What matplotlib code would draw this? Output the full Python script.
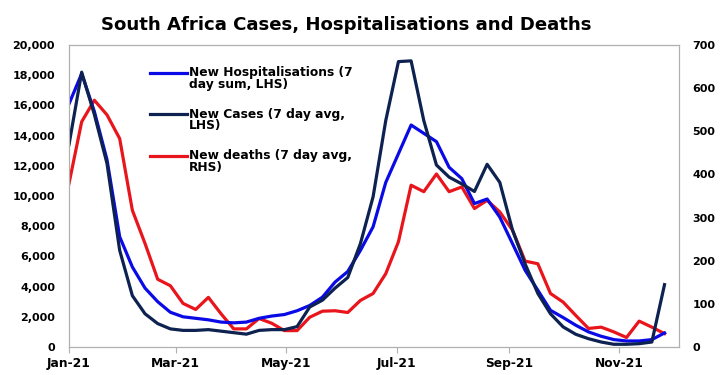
import matplotlib
matplotlib.use('Agg')
import matplotlib.pyplot as plt
import matplotlib.dates as mdates
from matplotlib.lines import Line2D
import pandas as pd

plt.rcParams['font.family'] = ['DejaVu Sans']
plt.rcParams['font.weight'] = 'bold'

# weekly observations from 1 Jan 2021
dates = pd.date_range('2021-01-01', periods=48, freq='7D')

hospitalisations = [16100, 18100, 15600, 12400, 7300, 5300, 3900, 3000, 2300, 2000,
                    1900, 1800, 1650, 1600, 1650, 1900, 2050, 2150, 2400, 2750,
                    3300, 4300, 5000, 6400, 7960, 10900, 12800, 14700, 14150, 13600,
                    11900, 11150, 9500, 9800, 8600, 6850, 5080, 3760, 2430, 1950,
                    1440, 1000, 710, 490, 400, 400, 490, 930]

cases = [13400, 18200, 15400, 12150, 6400, 3400, 2200, 1550, 1200, 1100,
         1100, 1150, 1050, 950, 850, 1100, 1150, 1150, 1350, 2650,
         3100, 3900, 4600, 6850, 9950, 15000, 18900, 18950, 15000, 12050,
         11250, 10800, 10300, 12100, 10900, 7750, 5500, 3550, 2200, 1330,
         840, 550, 330, 180, 180, 220, 330, 4130]

deaths = [379, 522, 572, 538, 483, 317, 240, 157, 142, 101,
          87, 115, 77, 42, 42, 66, 55, 38, 38, 69,
          83, 84, 80, 108, 124, 170, 244, 375, 360, 401,
          360, 371, 321, 340, 313, 271, 199, 193, 124, 104,
          73, 43, 46, 35, 22, 60, 46, 31]

tick_dates = pd.to_datetime(['2021-01-01', '2021-03-01', '2021-05-01',
                             '2021-07-01', '2021-09-01', '2021-11-01'])

labels = [('New Hospitalisations (7', 'day sum, LHS)'),
          ('New Cases (7 day avg,', 'LHS)'),
          ('New deaths (7 day avg,', 'RHS)')]
colors = ['#0A0AE6', '#0D2250', '#E8161C']

W, H = 720, 375
fig = plt.figure(figsize=(7.2, 3.75), dpi=100)
ax = fig.add_axes([69 / W, 28 / H, 610 / W, 302 / H])
ax2 = ax.twinx()

ax.plot(dates, hospitalisations, color=colors[0], lw=2.3)
ax.plot(dates, cases, color=colors[1], lw=2.3)
ax2.plot(dates, deaths, color=colors[2], lw=2.3)
ax.set_zorder(ax2.get_zorder() + 1)
ax.patch.set_visible(False)

ax.set_ylim(0, 20000)
ax.set_yticks(range(0, 20001, 2000))
ax.set_yticklabels([f'{v:,}' for v in range(0, 20001, 2000)])
ax2.set_ylim(0, 700)
ax2.set_yticks(range(0, 701, 100))

ax.set_xlim(pd.Timestamp('2021-01-01'), pd.Timestamp('2021-12-04'))
ax.set_xticks(tick_dates)
ax.xaxis.set_major_formatter(mdates.DateFormatter('%b-%y'))

for a in (ax, ax2):
    for s in a.spines.values():
        s.set_color('#B0B0B0')
    a.tick_params(axis='both', labelsize=8.0, width=0.8, color='#B0B0B0')
ax.tick_params(axis='y', length=0, pad=10)
ax2.tick_params(axis='y', length=0, pad=9.5)
ax.tick_params(axis='x', length=4, pad=3, labelsize=8.8)

# legend drawn by hand so the line sits on the first text row
for i, ((first, second), c) in enumerate(zip(labels, colors)):
    y = 72.5 + i * 41.5
    fig.add_artist(Line2D([150 / W, 187 / W], [1 - y / H, 1 - y / H], color=c, lw=2.3))
    fig.text(189 / W, 1 - (y + 3.8) / H, first, ha='left', va='baseline', fontsize=8.8)
    fig.text(189 / W, 1 - (y + 15.5) / H, second, ha='left', va='baseline', fontsize=8.8)

fig.text(346 / W, 1 - 29.5 / H, 'South Africa Cases, Hospitalisations and Deaths',
         ha='center', va='baseline', fontsize=13.1, fontweight='bold')

fig.savefig('out.png', dpi=100)
